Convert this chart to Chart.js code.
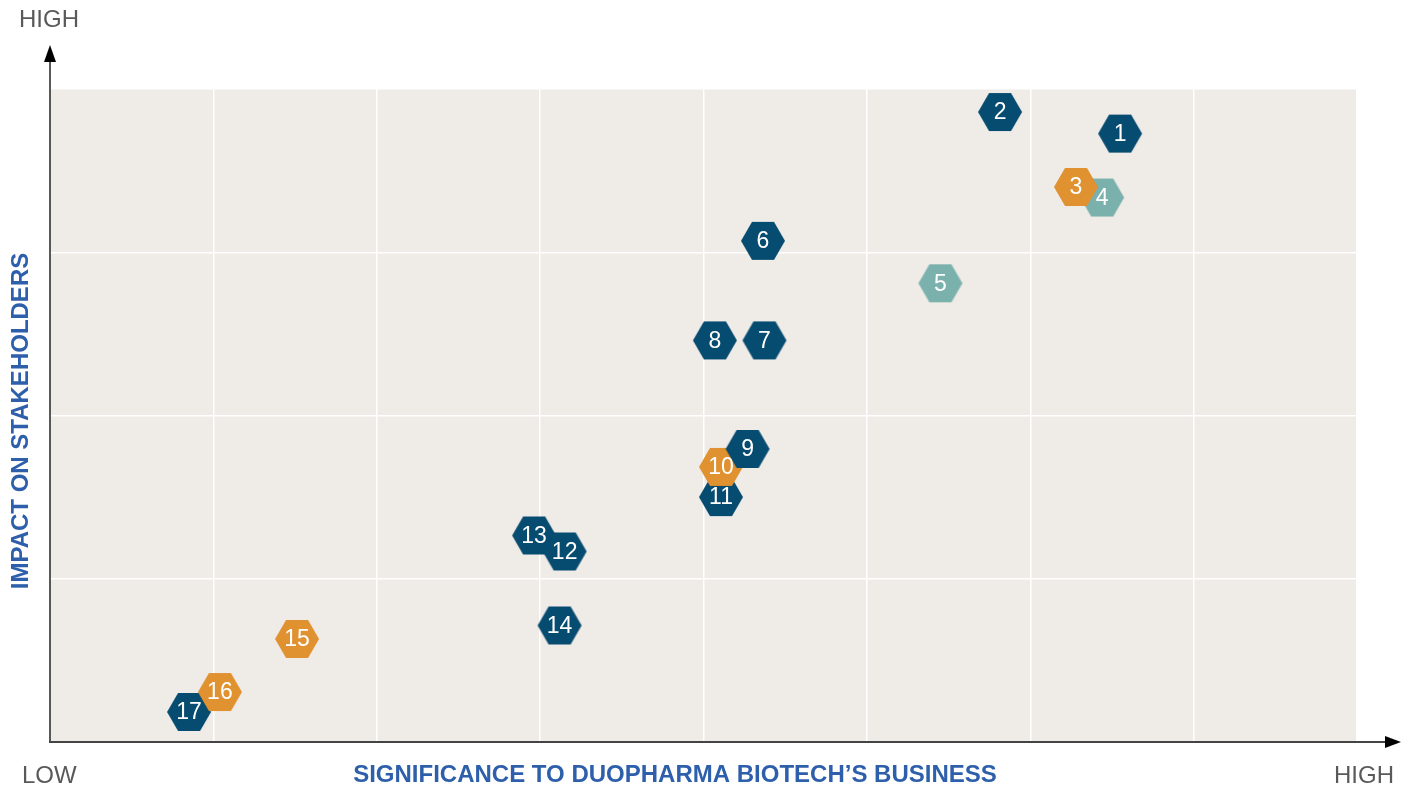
<!DOCTYPE html>
<html>
<head>
<meta charset="utf-8">
<script src="https://cdn.jsdelivr.net/npm/chart.js@4/dist/chart.umd.min.js"></script>
<style>
  html, body { margin: 0; padding: 0; background: #ffffff; }
  #matrix { display: block; }
</style>
</head>
<body>
<canvas id="matrix" width="1410" height="787"></canvas>
<script>
( function () {
    'use strict';

    // ── Data ────────────────────────────────────────────────────────────────
    var topicIds     = [ '1', '2', '3', '4', '5', '6', '7', '8', '9', '10', '11', '12', '13', '14', '15', '16', '17' ];
    var significance = [ 6.55, 5.815, 6.28, 6.44, 5.45, 4.364, 4.373, 4.07, 4.27, 4.107, 4.107, 3.15, 2.963, 3.119, 1.512, 1.04, 0.851 ];
    var impact       = [ 3.727, 3.859, 3.40, 3.335, 2.81, 3.07, 2.46, 2.46, 1.795, 1.685, 1.50, 1.167, 1.265, 0.714, 0.631, 0.306, 0.184 ];
    var pillar       = [ 'navy', 'navy', 'orange', 'teal', 'teal', 'navy', 'navy', 'navy', 'navy', 'orange', 'navy', 'navy', 'navy', 'navy', 'orange', 'orange', 'navy' ];

    var xTitle   = 'SIGNIFICANCE TO DUOPHARMA BIOTECH\u2019S BUSINESS';
    var yTitle   = 'IMPACT ON STAKEHOLDERS';
    var lowLabel = 'LOW';
    var highLabel = 'HIGH';

    var colors = {
        navy:   '#064b70',
        orange: '#e09130',
        teal:   '#7bb1ad',
    };

    // ── Hexagon markers ─────────────────────────────────────────────────────
    function makeHex( fill ) {
        var c = document.createElement( 'canvas' );
        c.width = 46;
        c.height = 40;
        var ctx = c.getContext( '2d' );
        var r = 22, cx = 23, cy = 20;
        ctx.beginPath();
        for ( var i = 0; i < 6; i++ ) {
            var a = Math.PI / 3 * i;
            ctx.lineTo( cx + r * Math.cos( a ), cy + r * Math.sin( a ) );
        }
        ctx.closePath();
        ctx.fillStyle = fill;
        ctx.fill();
        return c;
    }

    var hexes = {
        navy:   makeHex( colors.navy ),
        orange: makeHex( colors.orange ),
        teal:   makeHex( colors.teal ),
    };

    // later points sit on top, so draw from 17 down to 1
    var points = topicIds.map( function ( id, i ) {
        return { x: significance[ i ], y: impact[ i ], id: id, pillar: pillar[ i ] };
    } ).reverse();

    // ── Plugins ─────────────────────────────────────────────────────────────
    var plotBackground = {
        id: 'plotBackground',
        beforeDraw: function ( chart ) {
            var a = chart.chartArea, ctx = chart.ctx;
            ctx.save();
            ctx.fillStyle = '#efebe7';
            ctx.fillRect( a.left, a.top, a.right - a.left, a.bottom - a.top );
            ctx.restore();
        },
    };

    var axesAndLabels = {
        id: 'axesAndLabels',
        afterDatasetsDraw: function ( chart ) {
            var a = chart.chartArea, ctx = chart.ctx;
            ctx.save();

            // axis lines with arrows
            ctx.strokeStyle = '#222222';
            ctx.lineWidth = 1.5;
            ctx.beginPath();
            ctx.moveTo( a.left, a.bottom + 1 );
            ctx.lineTo( a.left, 56 );
            ctx.stroke();

            ctx.strokeStyle = '#444444';
            ctx.lineWidth = 2;
            ctx.beginPath();
            ctx.moveTo( a.left - 1, a.bottom );
            ctx.lineTo( 1390, a.bottom );
            ctx.stroke();

            ctx.fillStyle = '#000000';
            ctx.beginPath();
            ctx.moveTo( a.left, 45 );
            ctx.lineTo( a.left + 6, 62 );
            ctx.lineTo( a.left - 6, 62 );
            ctx.closePath();
            ctx.fill();

            ctx.beginPath();
            ctx.moveTo( 1401, a.bottom );
            ctx.lineTo( 1385, a.bottom - 6 );
            ctx.lineTo( 1385, a.bottom + 6 );
            ctx.closePath();
            ctx.fill();

            // point labels
            ctx.fillStyle = '#ffffff';
            ctx.font = '23px "Liberation Sans", Arial, sans-serif';
            ctx.textAlign = 'center';
            ctx.textBaseline = 'middle';
            var meta = chart.getDatasetMeta( 0 );
            meta.data.forEach( function ( el, i ) {
                ctx.fillText( points[ i ].id, el.x, el.y + 1 );
            } );

            // LOW / HIGH
            ctx.fillStyle = '#595959';
            ctx.font = '24px "Liberation Sans", Arial, sans-serif';
            ctx.textBaseline = 'alphabetic';
            ctx.textAlign = 'left';
            ctx.fillText( highLabel, 19, 27 );
            ctx.fillText( lowLabel, 22, 783 );
            ctx.textAlign = 'right';
            ctx.fillText( highLabel, 1394, 783 );

            // axis titles
            ctx.fillStyle = '#2e5fab';
            ctx.font = 'bold 24px "Liberation Sans", Arial, sans-serif';
            ctx.textAlign = 'center';
            ctx.fillText( xTitle, 675, 782 );

            ctx.translate( 28, 421 );
            ctx.rotate( -Math.PI / 2 );
            ctx.fillText( yTitle, 0, 0 );

            ctx.restore();
        },
    };

    // ── Chart ───────────────────────────────────────────────────────────────
    var axisStyle = {
        min:    0,
        ticks:  { display: false, stepSize: 1 },
        grid:   { color: '#ffffff', lineWidth: 1.5, drawTicks: false },
        border: { display: false },
    };

    new Chart( document.getElementById( 'matrix' ), {
        type: 'scatter',
        data: {
            datasets: [ {
                label: 'Material topics',
                data:  points,
                pointStyle: function ( ctx ) {
                    return hexes[ points[ ctx.dataIndex ].pillar ];
                },
                pointRadius: 22,
                pointHoverRadius: 22,
            } ],
        },
        options: {
            responsive: false,
            animation:  false,
            layout: { padding: { left: 50, right: 53, top: 89, bottom: 45 } },
            plugins: {
                legend:  { display: false },
                tooltip: { enabled: false },
            },
            scales: {
                x: { ...axisStyle, max: 8 },
                y: { ...axisStyle, max: 4 },
            },
        },
        plugins: [ plotBackground, axesAndLabels ],
    } );
} )();
</script>
</body>
</html>
